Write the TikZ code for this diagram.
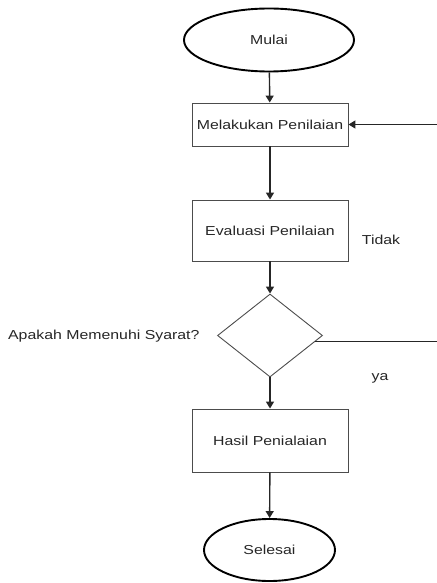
\documentclass[tikz,border=0pt]{standalone}
\usepackage{fontspec}
\setmainfont{Liberation Sans}[FakeStretch=1.22]
\usetikzlibrary{shapes.geometric,arrows.meta}

\begin{document}
\begin{tikzpicture}[x=1pt,y=-1pt,
        every node/.style={font=\fontsize{13}{15}\selectfont, text=black!85},
        terminal/.style={ellipse, draw=black, line width=1.9pt, inner sep=0pt},
        proses/.style={rectangle, draw=black!70, line width=0.9pt, minimum width=156pt},
        keputusan/.style={diamond, draw=black!70, line width=0.9pt, inner sep=0pt, minimum width=105pt, minimum height=83pt},
        panah/.style={draw=black!85, line width=1.4pt, -{Triangle[width=8pt,length=7pt]}}]
        \useasboundingbox (0,0) rectangle (436,583);
        \node[terminal, minimum width=170pt, minimum height=63pt] (mulai) at (269,40) {Mulai};
        \node[proses, minimum height=43pt] (melakukan) at (270,124.5) {Melakukan Penilaian};
        \node[proses, minimum height=61pt] (evaluasi) at (270,230.5) {Evaluasi Penilaian};
        \node[keputusan] (syarat) at (270,335.5) {};
        \node[proses, minimum height=63pt] (hasil) at (270,440.5) {Hasil Penialaian};
        \node[terminal, minimum width=131pt, minimum height=62pt] (selesai) at (269.5,550) {Selesai};
        \node[anchor=east] (tanya) at (203,336) {Apakah Memenuhi Syarat?};
        \node (tidak) at (381,240) {Tidak};
        \node (ya) at (380,378) {ya};
        \coordinate (kembali) at (437,124.5);
        \coordinate (keluar) at (437,342);
        \draw[panah] (mulai) -- (melakukan);
        \draw[panah] (melakukan) -- (evaluasi);
        \draw[panah] (evaluasi) -- (syarat);
        \draw[panah] (syarat) -- (hasil);
        \draw[panah] (hasil) -- (selesai);
        \draw[panah] (kembali) -- (melakukan.east);
        \draw[draw=black!85, line width=1pt] (syarat.-8) -- (syarat.-8 -| keluar);
\end{tikzpicture}
\end{document}
